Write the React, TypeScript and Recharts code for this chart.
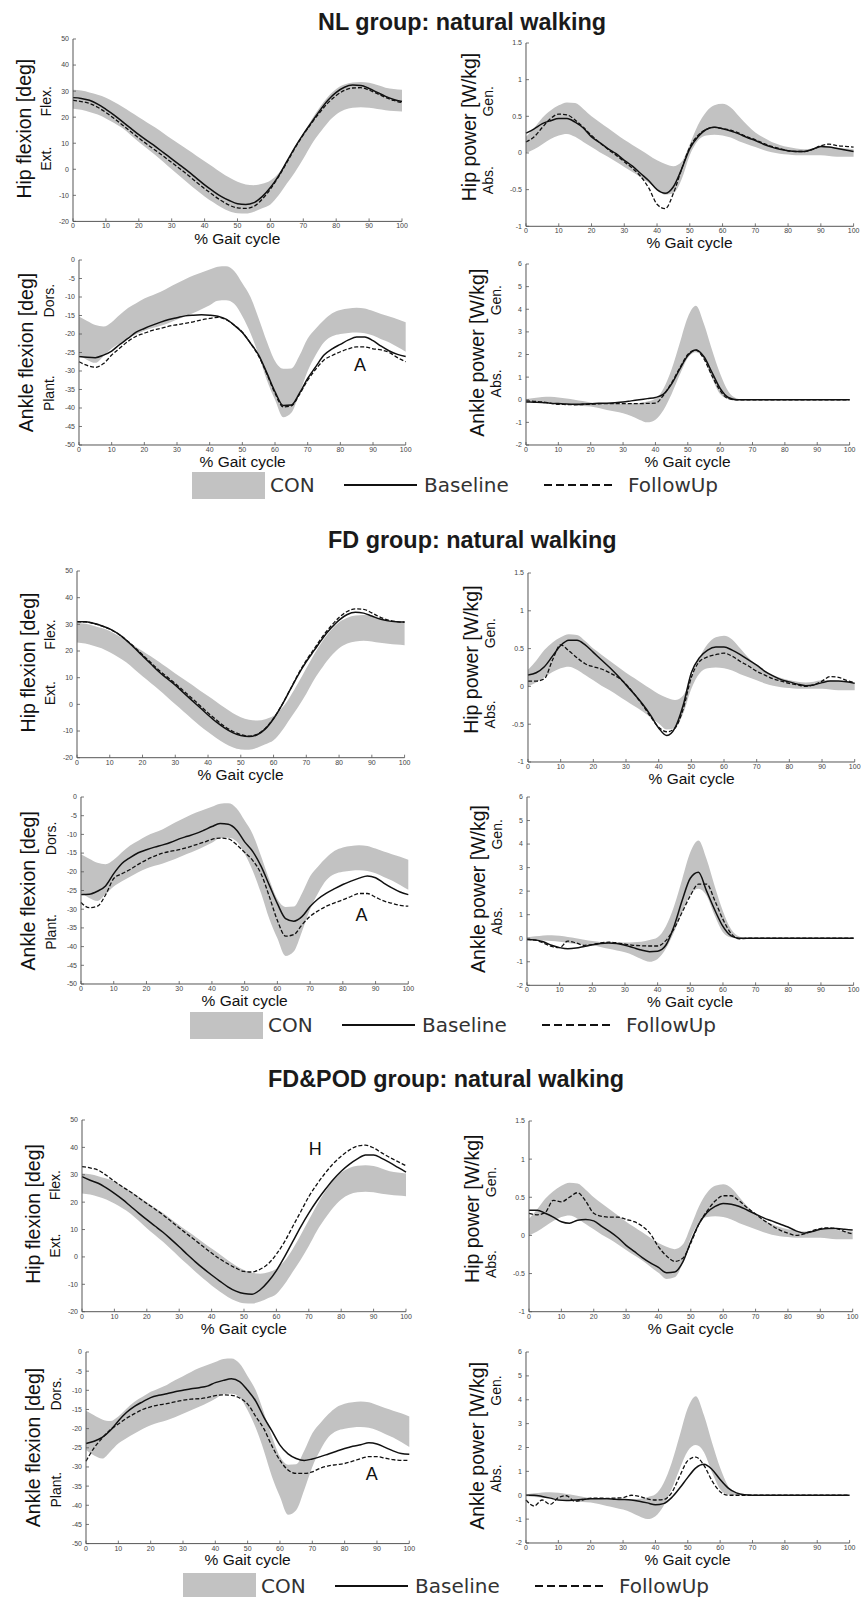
import React from 'react';
import { Area, ComposedChart, Line, ReferenceDot, XAxis, YAxis } from 'recharts';

// % gait cycle sample points
const GAIT = [0, 2.5, 5, 7.5, 10, 12.5, 15, 17.5, 20, 22.5, 25, 27.5, 30, 32.5, 35, 37.5, 40, 42.5, 45, 47.5, 50, 52.5, 55, 57.5, 60, 62.5, 65, 67.5, 70, 72.5, 75, 77.5, 80, 82.5, 85, 87.5, 90, 92.5, 95, 97.5, 100];
const X_TICKS = [0, 10, 20, 30, 40, 50, 60, 70, 80, 90, 100];

// control group band (mean +/- SD), same in every group
const conHipFlexHi = [30.5, 30.2, 29.5, 28.6, 27.5, 25.8, 24, 22, 20, 18, 16, 13.8, 11.6, 9.5, 7.4, 5.2, 3.1, 1, -1.2, -3.2, -4.8, -5.8, -6.1, -5.6, -4.3, -1.5, 2.8, 8, 13.5, 19, 23.8, 27.8, 30.8, 32.5, 33.3, 33.5, 33.2, 32.3, 31.3, 30.8, 30.5];
const conHipFlexLo = [23.2, 22.8, 22, 21, 19.5, 17.8, 15.8, 13.2, 10.5, 8, 5.5, 2.8, 0, -2.7, -5.4, -8, -10.4, -12.6, -14.6, -16.1, -16.9, -17, -16.3, -15, -13.5, -10, -5.5, -1, 4, 9.5, 14, 18, 21, 22.8, 23.6, 23.8, 23.6, 23.1, 22.7, 22.4, 22.2];
const conHipPowHi = [0.22, 0.34, 0.48, 0.58, 0.65, 0.69, 0.68, 0.6, 0.5, 0.42, 0.34, 0.26, 0.18, 0.11, 0.04, -0.03, -0.1, -0.15, -0.18, -0.12, 0.12, 0.38, 0.56, 0.65, 0.67, 0.62, 0.5, 0.38, 0.28, 0.21, 0.15, 0.11, 0.08, 0.06, 0.05, 0.06, 0.08, 0.08, 0.07, 0.06, 0.05];
const conHipPowLo = [0, 0.05, 0.12, 0.19, 0.24, 0.26, 0.22, 0.15, 0.08, 0.01, -0.05, -0.12, -0.19, -0.26, -0.33, -0.41, -0.49, -0.57, -0.55, -0.36, -0.03, 0.17, 0.24, 0.25, 0.24, 0.21, 0.16, 0.12, 0.08, 0.04, 0.01, -0.01, -0.02, -0.03, -0.03, -0.03, -0.03, -0.04, -0.05, -0.05, -0.05];
const conAnkFlexHi = [-15.3, -16.5, -17.6, -18, -16.8, -14.8, -13, -11.7, -10.4, -9.5, -8.6, -7.4, -6.3, -5.2, -4.2, -3.4, -2.6, -1.8, -1.7, -3, -6.3, -10, -15.8, -22, -27.3, -29.4, -29.3, -25.8, -21.2, -18.5, -16.2, -14.4, -13.5, -13.1, -12.9, -13.1, -13.8, -14.6, -15.3, -16, -16.8];
const conAnkFlexLo = [-25.6, -27, -27.8, -26, -23.9, -22.5, -21.3, -20.1, -19.1, -18.4, -17.8, -17, -16.1, -15.2, -14.3, -13.3, -12.2, -11, -10.9, -11.8, -15.2, -19.8, -25.7, -32.5, -37.8, -42.5, -41.3, -36, -30, -25.6, -22.2, -20.6, -20, -19.7, -19.6, -19.8, -20.4, -21.4, -22.3, -23.5, -24.8];
const conAnkPowHi = [0.03, 0.08, 0.12, 0.13, 0.1, 0.05, 0, -0.06, -0.12, -0.16, -0.18, -0.18, -0.18, -0.17, -0.15, -0.08, 0.04, 0.5, 1.35, 2.5, 3.65, 4.15, 3.35, 2.2, 1.15, 0.38, 0.07, 0, 0, 0, 0, 0, 0, 0, 0, 0, 0, 0, 0, 0, 0];
const conAnkPowLo = [-0.04, -0.07, -0.1, -0.12, -0.15, -0.2, -0.25, -0.28, -0.3, -0.37, -0.45, -0.52, -0.6, -0.72, -0.88, -1.0, -0.88, -0.45, 0.25, 1.1, 1.85, 2.1, 1.8, 0.95, 0.25, 0.03, 0, 0, 0, 0, 0, 0, 0, 0, 0, 0, 0, 0, 0, 0, 0];

// NL group
const nlHipFlexBase = [27.5, 27.2, 26.5, 25, 23, 20.8, 18.3, 15.8, 13.3, 11, 8.8, 6.4, 4, 1.6, -0.8, -3.4, -6, -8.3, -10.4, -12, -13.2, -13.5, -12.8, -10.5, -7, -2.5, 3, 8.5, 13.5, 18, 22.5, 26.5, 29.5, 31.5, 32.3, 32.2, 31, 29.5, 28, 26.8, 26];
const nlHipFlexFollow = [26.5, 26, 25.3, 23.8, 21.8, 19.5, 17, 14.5, 12, 9.6, 7.3, 5, 2.6, 0.2, -2.3, -4.9, -7.4, -9.8, -12, -13.8, -14.8, -15, -14.2, -11.5, -7.6, -2.8, 2.6, 8.2, 13.2, 17.7, 21.8, 25.5, 28.3, 30.3, 31.2, 31.3, 30.4, 29, 27.6, 26.4, 25.6];
const nlHipPowBase = [0.27, 0.33, 0.4, 0.44, 0.47, 0.47, 0.42, 0.34, 0.22, 0.14, 0.06, -0.01, -0.1, -0.18, -0.28, -0.38, -0.5, -0.55, -0.46, -0.22, 0.06, 0.22, 0.32, 0.35, 0.33, 0.3, 0.26, 0.21, 0.17, 0.12, 0.08, 0.05, 0.03, 0.02, 0.02, 0.05, 0.09, 0.08, 0.06, 0.04, 0.02];
const nlHipPowFollow = [0.15, 0.22, 0.35, 0.47, 0.53, 0.52, 0.45, 0.35, 0.24, 0.14, 0.05, -0.03, -0.12, -0.21, -0.32, -0.48, -0.7, -0.76, -0.55, -0.22, 0.08, 0.24, 0.32, 0.35, 0.33, 0.31, 0.27, 0.22, 0.18, 0.13, 0.09, 0.06, 0.03, 0.02, 0.02, 0.05, 0.1, 0.12, 0.1, 0.09, 0.08];
const nlAnkFlexBase = [-26.1, -26.3, -26.4, -25.7, -24.6, -22.8, -21.2, -19.5, -18.5, -17.6, -16.8, -16.1, -15.6, -15.1, -14.9, -14.8, -14.9, -15.2, -16, -17.6, -19.6, -22.5, -25.7, -30.5, -35.6, -39.3, -39.2, -36, -32, -28.8, -25.7, -24, -22.8, -21.6, -20.8, -20.8, -21.8, -23.3, -24.6, -25.5, -26.1];
const nlAnkFlexFollow = [-27.5, -28.5, -29, -28, -25.7, -23.8, -22, -20.6, -19.8, -19, -18.5, -17.9, -17.5, -17.1, -16.7, -16.2, -15.8, -15.5, -16.1, -17.6, -19.5, -22.5, -26, -30.8, -36, -39.7, -39.4, -36.3, -32.5, -29.5, -27, -25.8, -24.8, -24, -23.5, -23.5, -24, -24.3, -25, -26.4, -27.5];
const nlAnkPowBase = [-0.1, -0.11, -0.12, -0.15, -0.17, -0.19, -0.2, -0.19, -0.18, -0.16, -0.15, -0.13, -0.1, -0.05, 0, 0.05, 0.1, 0.25, 0.7, 1.35, 1.95, 2.2, 1.9, 1.2, 0.5, 0.1, 0, 0, 0, 0, 0, 0, 0, 0, 0, 0, 0, 0, 0, 0, 0];
const nlAnkPowFollow = [-0.05, -0.07, -0.1, -0.15, -0.2, -0.21, -0.22, -0.21, -0.2, -0.18, -0.17, -0.17, -0.17, -0.17, -0.17, -0.16, -0.15, 0.2, 0.75, 1.4, 2.0, 2.2, 1.8, 1.05, 0.4, 0.05, 0, 0, 0, 0, 0, 0, 0, 0, 0, 0, 0, 0, 0, 0, 0];

// FD group
const fdHipFlexBase = [31, 31, 30.4, 29.5, 28.3, 26.5, 24.1, 21.2, 18.2, 15.2, 12.2, 9.7, 7.2, 4.4, 1.6, -1.2, -4, -6.6, -8.8, -10.6, -11.7, -12.1, -11.4, -9.2, -5.4, -0.4, 5.3, 11, 16, 20.4, 24.8, 28.5, 31.6, 33.7, 34.5, 34.2, 33.1, 32, 31.3, 31, 30.9];
const fdHipFlexFollow = [31, 30.9, 30.3, 29.4, 28.2, 26.5, 24.2, 21.5, 18.6, 15.7, 12.8, 10.3, 7.8, 5.1, 2.4, -0.4, -3.2, -5.8, -8.2, -10.1, -11.3, -11.9, -11.2, -9, -5.3, -0.3, 5.4, 11.3, 16.5, 21, 25.5, 29.3, 32.6, 34.8, 35.8, 35.6, 34.3, 32.7, 31.6, 31, 30.8];
const fdHipPowBase = [0.15, 0.18, 0.26, 0.4, 0.54, 0.61, 0.61, 0.55, 0.45, 0.35, 0.25, 0.14, 0.02, -0.1, -0.23, -0.38, -0.55, -0.65, -0.55, -0.25, 0.18, 0.38, 0.48, 0.52, 0.52, 0.48, 0.42, 0.35, 0.28, 0.2, 0.14, 0.09, 0.06, 0.03, 0.01, 0.02, 0.05, 0.07, 0.07, 0.06, 0.04];
const fdHipPowFollow = [0.07, 0.07, 0.1, 0.35, 0.55, 0.47, 0.38, 0.3, 0.26, 0.23, 0.18, 0.12, 0.03, -0.1, -0.24, -0.4, -0.54, -0.6, -0.55, -0.3, 0.12, 0.33, 0.39, 0.42, 0.44, 0.4, 0.33, 0.27, 0.2, 0.15, 0.1, 0.07, 0.04, 0.02, 0, 0.02, 0.07, 0.13, 0.12, 0.08, 0.05];
const fdAnkFlexBase = [-26.1, -26, -25.2, -23.8, -20.5, -17.8, -16.2, -14.9, -14.1, -13.4, -12.8, -12.1, -11.2, -10.5, -9.8, -8.9, -7.9, -7.1, -7.3, -8.8, -12, -14.6, -18.5, -23.5, -28.5, -32.5, -33.2, -32, -29.3, -27.2, -25.7, -24.5, -23.4, -22.5, -21.7, -21.1, -21.6, -23, -24.3, -25.4, -26.1];
const fdAnkFlexFollow = [-28.2, -29.6, -29.2, -26.2, -21.8, -20.5, -19.4, -18, -16.8, -15.8, -15, -14.5, -14.1, -13.5, -12.8, -12.1, -11.3, -11, -11.2, -12.7, -14.8, -17, -20.5, -26.5, -33, -37.2, -36.8, -34.2, -31.9, -30.4, -29.2, -28.3, -27.5, -26.6, -25.8, -25.8, -26.8, -27.8, -28.4, -29, -29.2];
const fdAnkPowBase = [-0.05, -0.07, -0.15, -0.3, -0.4, -0.45, -0.42, -0.35, -0.28, -0.22, -0.2, -0.22, -0.3, -0.4, -0.5, -0.57, -0.55, -0.3, 0.5, 1.6, 2.55, 2.8, 2.0, 1.2, 0.5, 0.1, 0, 0, 0, 0, 0, 0, 0, 0, 0, 0, 0, 0, 0, 0, 0];
const fdAnkPowFollow = [-0.05, -0.08, -0.2, -0.35, -0.4, -0.12, -0.2, -0.3, -0.27, -0.2, -0.17, -0.2, -0.25, -0.3, -0.32, -0.33, -0.33, -0.1, 0.4, 1.1, 1.8, 2.3, 2.3, 1.6, 0.8, 0.2, -0.03, 0, 0, 0, 0, 0, 0, 0, 0, 0, 0, 0, 0, 0, 0];

// FD&POD group
const fdpodHipFlexBase = [29.3, 28, 26.9, 25.2, 23.2, 21, 18.5, 16, 13.6, 11.3, 9, 6.4, 3.7, 0.9, -1.8, -4.3, -6.6, -8.8, -10.9, -12.5, -13.4, -13.6, -12, -9, -5, 0, 5.5, 11, 16, 20.5, 24.5, 28.2, 31.3, 33.8, 35.8, 37.2, 37.2, 36, 34.4, 32.7, 31];
const fdpodHipFlexFollow = [33, 32.5, 31.7, 29.8, 27.6, 25.6, 23.7, 21.6, 19.5, 17.5, 15.4, 13, 10.6, 8.3, 6, 3.7, 1.4, -0.7, -2.5, -4.1, -5.3, -5.5, -4.5, -2.5, 1, 5.5, 11, 16.5, 22, 26.5, 30.5, 34, 36.8, 39, 40.5, 40.8, 39.8, 38, 36.3, 34.8, 33.3];
const fdpodHipPowBase = [0.33, 0.33, 0.29, 0.24, 0.18, 0.16, 0.2, 0.21, 0.19, 0.12, 0.05, -0.03, -0.13, -0.21, -0.29, -0.36, -0.42, -0.49, -0.48, -0.35, -0.08, 0.15, 0.3, 0.38, 0.42, 0.41, 0.38, 0.33, 0.28, 0.23, 0.19, 0.15, 0.11, 0.06, 0.03, 0.05, 0.08, 0.09, 0.09, 0.08, 0.07];
const fdpodHipPowFollow = [0.29, 0.27, 0.3, 0.46, 0.44, 0.5, 0.56, 0.45, 0.29, 0.25, 0.24, 0.24, 0.21, 0.18, 0.12, 0.02, -0.15, -0.27, -0.34, -0.3, -0.1, 0.15, 0.32, 0.45, 0.52, 0.52, 0.45, 0.36, 0.28, 0.2, 0.13, 0.07, 0.03, 0, 0.02, 0.06, 0.09, 0.1, 0.09, 0.05, 0.02];
const fdpodAnkFlexBase = [-23.9, -23.3, -22.3, -20.5, -18, -15.8, -14.2, -13, -11.9, -11.3, -10.9, -10.4, -10, -9.6, -9.3, -8.9, -8, -7.4, -7, -7.7, -10, -12.8, -17, -20.6, -24.3, -26.6, -27.8, -28.3, -27.9, -27.3, -26.6, -25.9, -25.2, -24.6, -24.2, -23.7, -24, -24.9, -25.8, -26.5, -26.7];
const fdpodAnkFlexFollow = [-28.5, -25, -22.5, -20.3, -18.8, -17.3, -16.1, -15, -14.3, -13.8, -13.5, -13, -12.6, -12.3, -12.2, -11.9, -11.4, -11.2, -11.3, -12, -13.6, -16.8, -20, -24.5, -28.3, -30.8, -31.7, -31.7, -31.3, -30.3, -29.7, -29.4, -29.1, -28.5, -27.8, -27.3, -27.3, -27.7, -28.1, -28.3, -28.3];
const fdpodAnkPowBase = [0, 0, -0.05, -0.12, -0.2, -0.22, -0.2, -0.17, -0.15, -0.15, -0.15, -0.17, -0.18, -0.2, -0.25, -0.32, -0.4, -0.35, -0.1, 0.3, 0.75, 1.15, 1.3, 1.08, 0.66, 0.3, 0.1, 0.02, 0, 0, 0, 0, 0, 0, 0, 0, 0, 0, 0, 0, 0];
const fdpodAnkPowFollow = [-0.2, -0.45, -0.2, -0.38, -0.1, -0.02, -0.25, -0.2, -0.12, -0.12, -0.13, -0.12, -0.1, 0, -0.05, -0.15, -0.2, -0.18, 0.1, 0.8, 1.45, 1.6, 1.25, 0.6, 0.15, 0, 0, 0, 0, 0, 0, 0, 0, 0, 0, 0, 0, 0, 0, 0, 0];

const SANS = '"Liberation Sans", Arial, sans-serif';

const KINDS: any = {
  hipFlex: {
    domain: [-20, 50], ticks: [-20, -10, 0, 10, 20, 30, 40, 50], lo: conHipFlexLo, hi: conHipFlexHi,
    label: 'Hip flexion [deg]', up: 'Flex.', down: 'Ext.', bigOff: 42, smallOff: 22, bigPos: 0.49, upPos: 0.34, downPos: 0.655,
  },
  hipPow: {
    domain: [-1, 1.5], ticks: [-1, -0.5, 0, 0.5, 1, 1.5], lo: conHipPowLo, hi: conHipPowHi,
    label: 'Hip power [W/kg]', up: 'Gen.', down: 'Abs.', bigOff: 50, smallOff: 33, bigPos: 0.46, upPos: 0.32, downPos: 0.75,
  },
  ankFlex: {
    domain: [-50, 0], ticks: [-50, -45, -40, -35, -30, -25, -20, -15, -10, -5, 0], lo: conAnkFlexLo, hi: conAnkFlexHi,
    label: 'Ankle flexion [deg]', up: 'Dors.', down: 'Plant.', bigOff: 46, smallOff: 25, bigPos: 0.5, upPos: 0.22, downPos: 0.72,
  },
  ankPow: {
    domain: [-2, 6], ticks: [-2, -1, 0, 1, 2, 3, 4, 5, 6], lo: conAnkPowLo, hi: conAnkPowHi,
    label: 'Ankle power [W/kg]', up: 'Gen.', down: 'Abs.', bigOff: 42, smallOff: 25, bigPos: 0.49, upPos: 0.2, downPos: 0.66,
  },
};

const GROUPS = [
  {
    title: 'NL group: natural walking', titleX: 318, titleY: 29.5, legendX: 192, legendY: 485,
    panels: [
      { kind: 'hipFlex', x0: 72.7, x1: 401.7, y0: 39.3, y1: 221.7, base: nlHipFlexBase, follow: nlHipFlexFollow },
      { kind: 'hipPow', x0: 525.7, x1: 853.3, y0: 42.7, y1: 226, base: nlHipPowBase, follow: nlHipPowFollow },
      { kind: 'ankFlex', x0: 79.3, x1: 406, y0: 260, y1: 445, base: nlAnkFlexBase, follow: nlAnkFlexFollow, mark: { x: 86, y: -28.2, text: 'A' } },
      { kind: 'ankPow', x0: 525.7, x1: 849.3, y0: 264, y1: 445, base: nlAnkPowBase, follow: nlAnkPowFollow },
    ],
  },
  {
    title: 'FD group: natural walking', titleX: 328, titleY: 548.3, legendX: 190, legendY: 1025,
    panels: [
      { kind: 'hipFlex', x0: 76.7, x1: 404.3, y0: 571, y1: 757.7, base: fdHipFlexBase, follow: fdHipFlexFollow },
      { kind: 'hipPow', x0: 528.3, x1: 855, y0: 572.7, y1: 761.7, base: fdHipPowBase, follow: fdHipPowFollow },
      { kind: 'ankFlex', x0: 81, x1: 408.3, y0: 797.3, y1: 984.3, base: fdAnkFlexBase, follow: fdAnkFlexFollow, mark: { x: 85.7, y: -31.5, text: 'A' } },
      { kind: 'ankPow', x0: 526.7, x1: 853.3, y0: 796.7, y1: 985, base: fdAnkPowBase, follow: fdAnkPowFollow },
    ],
  },
  {
    title: 'FD&POD group: natural walking', titleX: 268, titleY: 1086.7, legendX: 183, legendY: 1586,
    panels: [
      { kind: 'hipFlex', x0: 81.7, x1: 405.7, y0: 1120, y1: 1311.7, base: fdpodHipFlexBase, follow: fdpodHipFlexFollow, mark: { x: 72, y: 39.6, text: 'H' } },
      { kind: 'hipPow', x0: 529, x1: 852.7, y0: 1121, y1: 1311.7, base: fdpodHipPowBase, follow: fdpodHipPowFollow },
      { kind: 'ankFlex', x0: 86, x1: 409.3, y0: 1351.7, y1: 1543.3, base: fdpodAnkFlexBase, follow: fdpodAnkFlexFollow, mark: { x: 88.4, y: -31.7, text: 'A' } },
      { kind: 'ankPow', x0: 525.7, x1: 849.3, y0: 1352.3, y1: 1543.3, base: fdpodAnkPowBase, follow: fdpodAnkPowFollow },
    ],
  },
];

// ticks point inwards, like the original MATLAB plots
const YTick = (props: any) => {
  const { x, y, payload } = props;
  return (
    <g>
      <line x1={x + 3} y1={y} x2={x + 6} y2={y} stroke="#555" strokeWidth={0.8} />
      <text x={x - 1} y={y + 2.4} textAnchor="end" fontSize={7} fill="#444" fontFamily={SANS}>
        {payload.value}
      </text>
    </g>
  );
};

const XTick = (props: any) => {
  const { x, y, payload } = props;
  return (
    <g>
      <line x1={x} y1={y} x2={x} y2={y - 3} stroke="#555" strokeWidth={0.8} />
      <text x={x} y={y + 7} textAnchor="middle" fontSize={7} fill="#444" fontFamily={SANS}>
        {payload.value}
      </text>
    </g>
  );
};

const Panel = ({ p }: any) => {
  const k = KINDS[p.kind];
  const rows = GAIT.map((x, i) => ({ x, con: [k.lo[i], k.hi[i]], base: p.base[i], follow: p.follow[i] }));
  const width = p.x1 - p.x0 + 68;
  const height = p.y1 - p.y0 + 40;
  return (
    <div style={{ position: 'absolute', left: p.x0 - 60, top: p.y0 - 10 }}>
      <ComposedChart width={width} height={height} data={rows} margin={{ top: 10, right: 8, bottom: 0, left: 0 }}>
        <XAxis
          type="number"
          dataKey="x"
          domain={[0, 100]}
          ticks={X_TICKS}
          interval={0}
          height={30}
          tickSize={0}
          tickMargin={0}
          tickLine={false}
          axisLine={{ stroke: '#555' }}
          tick={<XTick />}
        />
        <YAxis
          type="number"
          domain={k.domain}
          ticks={k.ticks}
          interval={0}
          width={60}
          tickSize={0}
          tickMargin={3}
          tickLine={false}
          axisLine={{ stroke: '#555' }}
          tick={<YTick />}
        />
        <Area type="monotone" dataKey="con" stroke="none" fill="#c2c2c2" fillOpacity={1} isAnimationActive={false} />
        <Line type="monotone" dataKey="base" stroke="#111" strokeWidth={1.5} dot={false} isAnimationActive={false} />
        <Line
          type="monotone"
          dataKey="follow"
          stroke="#111"
          strokeWidth={1.3}
          strokeDasharray="4 2"
          dot={false}
          isAnimationActive={false}
        />
        {p.mark && (
          <ReferenceDot
            x={p.mark.x}
            y={p.mark.y}
            r={0}
            fill="none"
            stroke="none"
            label={{ value: p.mark.text, position: 'center', fontSize: 18, fill: '#111', fontFamily: SANS }}
          />
        )}
      </ComposedChart>
    </div>
  );
};

const PanelLabels = ({ p }: any) => {
  const k = KINDS[p.kind];
  const h = p.y1 - p.y0;
  const rot = (x: number, y: number) => `translate(${x},${y}) rotate(-90)`;
  return (
    <g fontFamily={SANS} fill="#111">
      <text transform={rot(p.x0 - k.bigOff, p.y0 + k.bigPos * h)} textAnchor="middle" fontSize={19.5}>
        {k.label}
      </text>
      <text transform={rot(p.x0 - k.smallOff, p.y0 + k.upPos * h)} textAnchor="middle" fontSize={14}>
        {k.up}
      </text>
      <text transform={rot(p.x0 - k.smallOff, p.y0 + k.downPos * h)} textAnchor="middle" fontSize={14}>
        {k.down}
      </text>
      <text x={(p.x0 + p.x1) / 2} y={p.y1 + 22} textAnchor="middle" fontSize={15.5}>
        % Gait cycle
      </text>
    </g>
  );
};

const Legend = ({ x, y }: any) => (
  <g fontFamily='"DejaVu Sans", sans-serif' fontSize={20} fill="#333">
    <rect x={x} y={y - 13} width={73} height={27} fill="#c2c2c2" />
    <text x={x + 78} y={y + 7}>CON</text>
    <line x1={x + 152} x2={x + 225} y1={y} y2={y} stroke="#111" strokeWidth={2} />
    <text x={x + 232} y={y + 7}>Baseline</text>
    <line x1={x + 352} x2={x + 422} y1={y} y2={y} stroke="#111" strokeWidth={2} strokeDasharray="8 4" />
    <text x={x + 436} y={y + 7}>FollowUp</text>
  </g>
);

const App = () => {
  return (
    <div
      style={{
        position: 'absolute',
        left: 0,
        top: 0,
        width: 862,
        height: 1597,
        overflow: 'hidden',
        background: '#fff',
      }}
    >
      <svg width={862} height={1597} style={{ position: 'absolute', left: 0, top: 0 }}>
        {GROUPS.map((g) => (
          <g key={g.title}>
            <text x={g.titleX} y={g.titleY} fontFamily={SANS} fontWeight="bold" fontSize={23.4} fill="#1a1a1a">
              {g.title}
            </text>
            {g.panels.map((p) => (
              <PanelLabels key={p.kind} p={p} />
            ))}
            <Legend x={g.legendX} y={g.legendY} />
          </g>
        ))}
      </svg>
      {GROUPS.map((g) => g.panels.map((p) => <Panel key={g.title + p.kind} p={p} />))}
    </div>
  );
};

export default App;
